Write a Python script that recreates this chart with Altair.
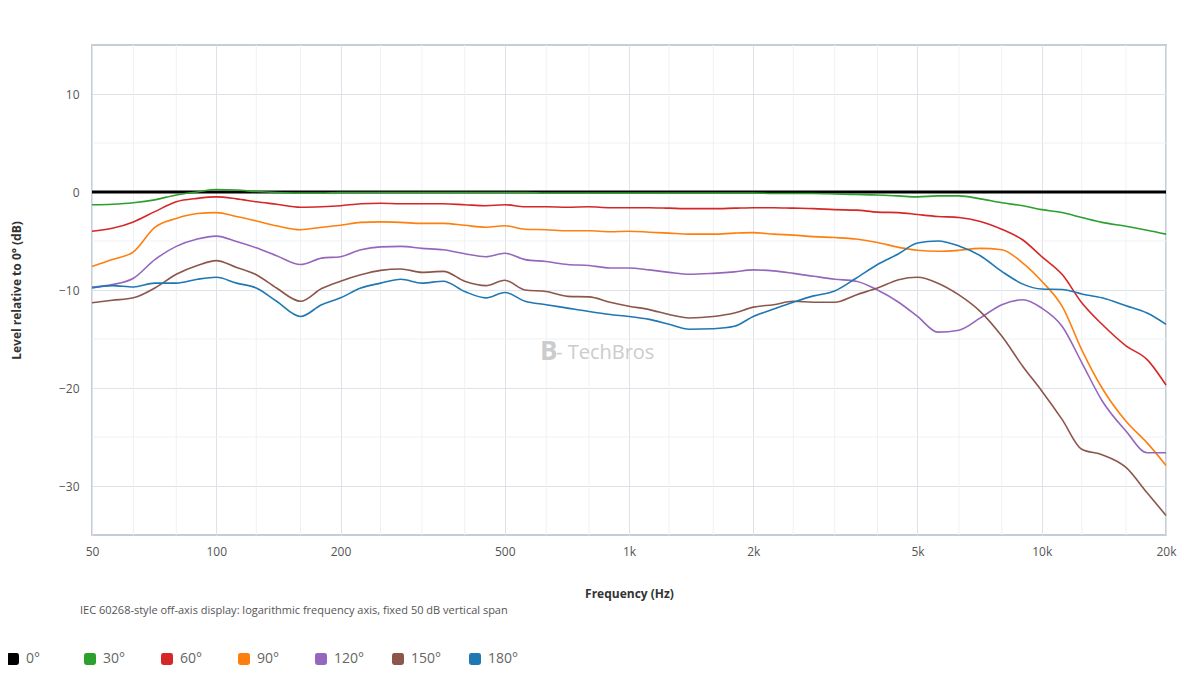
import altair as alt
import pandas as pd

# frequency points (Hz), roughly 1/6 octave
freqs = [50, 56, 63, 71, 80, 90, 100, 112, 125, 140, 160, 180, 200, 224, 250,
         280, 315, 355, 400, 450, 500, 560, 630, 710, 800, 900, 1000, 1120,
         1250, 1400, 1600, 1800, 2000, 2240, 2500, 2800, 3150, 3550, 4000,
         4500, 5000, 5600, 6300, 7100, 8000, 9000, 10000, 11200, 12500,
         14000, 16000, 18000, 20000]

ref_freqs = [50, 20000]
ref_0 = [0.0, 0.0]

off_30 = [-1.3, -1.25, -1.1, -0.8, -0.3, 0.0, 0.25, 0.2, 0.05, -0.05, -0.1,
          -0.1, -0.05, -0.05, -0.05, -0.05, -0.05, -0.05, -0.05, -0.05, -0.05,
          -0.05, -0.1, -0.1, -0.1, -0.1, -0.1, -0.1, -0.1, -0.1, -0.1, -0.1,
          -0.1, -0.15, -0.15, -0.15, -0.2, -0.25, -0.3, -0.4, -0.5, -0.4,
          -0.4, -0.7, -1.1, -1.4, -1.8, -2.1, -2.6, -3.1, -3.5, -3.9, -4.3]

off_60 = [-4.0, -3.7, -3.05, -2.0, -1.0, -0.65, -0.5, -0.7, -1.0, -1.25,
          -1.55, -1.5, -1.4, -1.2, -1.15, -1.2, -1.2, -1.2, -1.3, -1.4, -1.3,
          -1.5, -1.5, -1.55, -1.5, -1.6, -1.6, -1.6, -1.65, -1.7, -1.7, -1.65,
          -1.6, -1.6, -1.65, -1.7, -1.8, -1.85, -2.05, -2.1, -2.3, -2.5, -2.6,
          -3.0, -3.8, -4.9, -6.6, -8.4, -11.3, -13.5, -15.7, -17.1, -19.7]

off_90 = [-7.6, -6.9, -6.1, -3.6, -2.7, -2.2, -2.1, -2.5, -2.95, -3.45, -3.85,
          -3.6, -3.4, -3.1, -3.05, -3.1, -3.2, -3.2, -3.4, -3.6, -3.45, -3.8,
          -3.85, -3.95, -3.95, -4.05, -4.0, -4.1, -4.2, -4.3, -4.3, -4.2,
          -4.15, -4.3, -4.4, -4.55, -4.65, -4.8, -5.15, -5.65, -5.95, -6.05,
          -5.95, -5.75, -5.9, -7.25, -9.1, -11.65, -16.1, -20.0, -23.4,
          -25.6, -27.9]

off_120 = [-9.7, -9.45, -8.8, -6.9, -5.55, -4.8, -4.5, -5.05, -5.7, -6.5,
           -7.4, -6.75, -6.6, -5.9, -5.6, -5.55, -5.75, -5.9, -6.3, -6.6,
           -6.25, -6.9, -7.1, -7.4, -7.5, -7.75, -7.75, -7.95, -8.2, -8.4,
           -8.3, -8.15, -7.95, -8.05, -8.3, -8.6, -8.9, -9.1, -10.0, -11.25,
           -12.7, -14.3, -14.1, -12.85, -11.5, -11.0, -11.85, -13.7, -17.4,
           -21.3, -24.4, -26.6, -26.6]

off_150 = [-11.3, -11.05, -10.8, -9.8, -8.4, -7.5, -7.0, -7.7, -8.45, -9.8,
           -11.15, -9.85, -9.1, -8.45, -8.0, -7.85, -8.2, -8.1, -9.1, -9.55,
           -9.0, -10.0, -10.15, -10.65, -10.7, -11.25, -11.65, -12.0, -12.5,
           -12.85, -12.7, -12.35, -11.75, -11.5, -11.15, -11.25, -11.25,
           -10.5, -9.8, -8.95, -8.7, -9.3, -10.5, -12.2, -14.7, -17.8, -20.3,
           -23.2, -26.25, -26.8, -28.1, -30.7, -33.0]

off_180 = [-9.8, -9.55, -9.7, -9.3, -9.3, -8.9, -8.7, -9.3, -9.8, -11.15,
           -12.7, -11.5, -10.8, -9.8, -9.3, -8.9, -9.3, -9.1, -10.15, -10.8,
           -10.25, -11.15, -11.5, -11.85, -12.2, -12.5, -12.7, -13.0, -13.5,
           -14.0, -13.95, -13.7, -12.7, -11.95, -11.25, -10.6, -10.1, -8.8,
           -7.4, -6.3, -5.2, -5.0, -5.5, -6.5, -8.1, -9.4, -9.9, -9.95, -10.4,
           -10.8, -11.6, -12.35, -13.5]

angles = ["0°", "30°", "60°", "90°", "120°", "150°", "180°"]
colors = ["#000000", "#2ca02c", "#d62728", "#ff7f0e", "#9467bd", "#8c564b", "#1f77b4"]

major_freqs = [50, 100, 200, 500, 1000, 2000, 5000, 10000, 20000]
minor_freqs = [63, 80, 125, 160, 250, 315, 400, 630, 800, 1250, 1600, 2500,
               3150, 4000, 6300, 8000, 12500, 16000]
major_levels = [-30, -20, -10, 0, 10]
minor_levels = [-25, -15, -5, 5]

FONT = "Open Sans"

rows = [{"freq": f, "level": v, "angle": "0°", "order": 0}
        for f, v in zip(ref_freqs, ref_0)]
for i, vals in enumerate([off_30, off_60, off_90, off_120, off_150, off_180], start=1):
    rows += [{"freq": f, "level": v, "angle": angles[i], "order": i}
             for f, v in zip(freqs, vals)]
df = pd.DataFrame(rows)

x_scale = alt.Scale(type="log", domain=[50, 20000], nice=False)
y_scale = alt.Scale(domain=[-35, 15], nice=False)
color_scale = alt.Scale(domain=angles, range=colors)

# light third-octave / 5 dB grid
vgrid = alt.Chart(pd.DataFrame({"f": minor_freqs})).mark_rule(
    color="#eef1f4", strokeWidth=1
).encode(x=alt.X("f:Q", scale=x_scale))
hgrid = alt.Chart(pd.DataFrame({"v": minor_levels})).mark_rule(
    color="#eef1f4", strokeWidth=1
).encode(y=alt.Y("v:Q", scale=y_scale))

rounded_sq = ("M-1,-0.6 Q-1,-1 -0.6,-1 L0.6,-1 Q1,-1 1,-0.6 L1,0.6 Q1,1 0.6,1 "
              "L-0.6,1 Q-1,1 -1,0.6 Z")

lines = alt.Chart(df).mark_line(strokeJoin="round", interpolate="monotone").encode(
    x=alt.X("freq:Q", scale=x_scale, title="Frequency (Hz)",
            axis=alt.Axis(values=major_freqs, grid=True, gridColor="#dde3e8",
                          labelExpr="datum.value >= 1000 ? (datum.value / 1000) + 'k' : datum.value",
                          labelFlush=False, labelPadding=11, titlePadding=31)),
    y=alt.Y("level:Q", scale=y_scale, title="Level relative to 0° (dB)",
            axis=alt.Axis(values=major_levels, grid=True, gridColor="#dde3e8",
                          labelPadding=13, titlePadding=35)),
    color=alt.Color("angle:N", sort=angles, scale=color_scale, legend=None),
    strokeWidth=alt.condition(alt.datum.angle == "0°", alt.value(3), alt.value(1.6)),
    order=alt.Order("order:Q"),
    detail="angle:N",
)

# invisible squares that only carry the legend
key = alt.Chart(pd.DataFrame({"angle": angles, "freq": [1000] * 7, "level": [0] * 7})).mark_point(
    filled=True, shape="square", opacity=0
).encode(
    x=alt.X("freq:Q", scale=x_scale),
    y=alt.Y("level:Q", scale=y_scale),
    color=alt.Color("angle:N", sort=angles, scale=color_scale,
                    legend=alt.Legend(
                        title=None, orient="none", direction="horizontal",
                        columns=7, gridAlign="all", columnPadding=26,
                        legendX=-86, legendY=607,
                        symbolType=rounded_sq, symbolSize=144, symbolOpacity=1,
                        symbolStrokeWidth=0, labelFontSize=14,
                        labelColor="#666666", labelFont=FONT, labelOffset=6)),
)

watermark_logo = alt.Chart(pd.DataFrame({"t": ["B"]})).mark_text(
    align="left", baseline="middle", fontSize=26, fontWeight="bold",
    font=FONT, color="#cccccc"
).encode(text="t:N", x=alt.value(448), y=alt.value(307))

watermark = alt.Chart(pd.DataFrame({"t": ["- TechBros"]})).mark_text(
    align="left", baseline="middle", fontSize=20, font=FONT, color="#cccccc"
).encode(text="t:N", x=alt.value(464), y=alt.value(308))

caption = alt.Chart(pd.DataFrame({"t": [
    "IEC 60268-style off-axis display: logarithmic frequency axis, fixed 50 dB vertical span"
]})).mark_text(
    align="left", baseline="middle", fontSize=11, font=FONT, color="#555555"
).encode(text="t:N", x=alt.value(-12), y=alt.value(566))

chart = alt.layer(vgrid, hgrid, lines, key, watermark_logo, watermark, caption).resolve_legend(
    color="independent"
).properties(
    width=1074, height=490, autosize="none",
    padding={"left": 84, "top": 37, "right": 26, "bottom": 150},
).configure_view(
    stroke="#c5cdd5", strokeWidth=2
).configure_axis(
    domain=False, ticks=False, labelFont=FONT, titleFont=FONT,
    labelFontSize=12, labelColor="#555555", titleFontSize=12,
    titleColor="#333333", titleFontWeight="bold"
)

chart.save("out.html", embed_options={"renderer": "svg", "actions": False})
